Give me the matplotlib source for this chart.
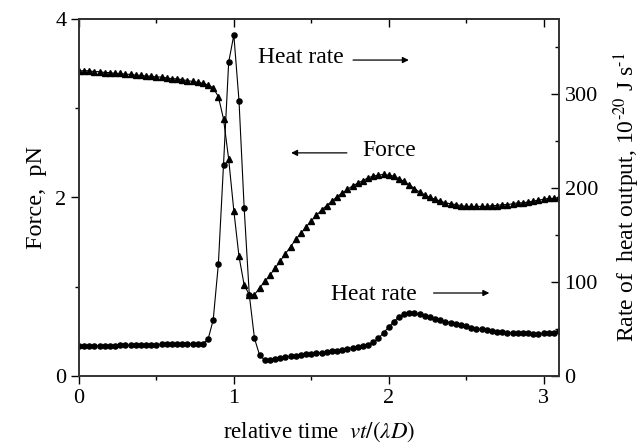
import numpy as np
import matplotlib
matplotlib.use("Agg")
import matplotlib.pyplot as plt
from matplotlib.ticker import MultipleLocator

plt.rcParams['font.family'] = ['Liberation Serif', 'DejaVu Serif']
plt.rcParams['mathtext.fontset'] = 'stix'

# relative time grid (k/30)
t = np.arange(94) / 30.0

force = [3.42, 3.42, 3.42, 3.41, 3.41, 3.40, 3.40, 3.39, 3.39, 3.38,
         3.38, 3.37, 3.37, 3.36, 3.36, 3.35, 3.35, 3.34, 3.33, 3.33,
         3.32, 3.31, 3.30, 3.29, 3.28, 3.26, 3.23, 3.13, 2.88, 2.43,
         1.85, 1.34, 1.02, 0.91, 0.91, 0.99, 1.06, 1.13, 1.21, 1.29,
         1.37, 1.45, 1.53, 1.60, 1.67, 1.74, 1.80, 1.86, 1.91, 1.96,
         2.01, 2.05, 2.09, 2.13, 2.16, 2.19, 2.22, 2.24, 2.25, 2.26,
         2.25, 2.24, 2.21, 2.18, 2.14, 2.10, 2.06, 2.03, 2.00, 1.98,
         1.96, 1.94, 1.93, 1.92, 1.91, 1.90, 1.90, 1.90, 1.90, 1.90,
         1.91, 1.91, 1.92, 1.92, 1.93, 1.94, 1.94, 1.95, 1.96, 1.97,
         1.98, 1.99, 1.99, 2.00]

heat = [31.5, 31.6, 31.8, 31.9, 32.0, 32.2, 32.3, 32.4, 32.6, 32.7,
        32.8, 33.0, 33.1, 33.2, 33.3, 33.5, 33.6, 33.7, 33.8, 33.9,
        34.0, 34.1, 34.2, 34.3, 34.5, 39.0, 59.6, 119.0, 225.0, 334.0,
        363.0, 293.0, 179.0, 86.0, 40.0, 22.0, 17.0, 17.5, 18.5, 19.5,
        20.3, 21.0, 21.7, 22.3, 23.0, 23.7, 24.4, 25.0, 25.7, 26.3,
        27.0, 27.9, 29.0, 30.0, 31.0, 32.0, 33.5, 36.0, 40.0, 46.0,
        52.0, 58.0, 63.0, 65.5, 67.0, 66.8, 65.5, 64.0, 62.5, 61.0,
        59.3, 58.0, 56.6, 55.3, 54.0, 52.8, 51.6, 50.5, 49.6, 48.8,
        48.0, 47.3, 46.7, 46.2, 45.9, 45.6, 45.4, 45.3, 45.2, 45.2,
        45.3, 45.6, 46.2, 48.0]

fig = plt.figure(figsize=(6.41, 4.48), dpi=100)
ax = fig.add_axes([79/641, 1-376/448, (559-79)/641, (376-19)/448])
ax2 = ax.twinx()

ax.plot(t, force, color='black', lw=0.8, marker='^', ms=4.6, mec='black', mfc='black')
ax2.plot(t, heat, color='black', lw=0.8, marker='o', ms=3.7, mec='black', mfc='black')

ax.set_xlim(0, 3.1)
ax.set_ylim(0, 4)
ax2.set_ylim(0, 380)

ax.xaxis.set_major_locator(MultipleLocator(1))
ax.xaxis.set_minor_locator(MultipleLocator(0.5))
ax.yaxis.set_major_locator(MultipleLocator(2))
ax.yaxis.set_minor_locator(MultipleLocator(1))
ax2.yaxis.set_major_locator(MultipleLocator(100))
ax2.yaxis.set_minor_locator(MultipleLocator(50))

fs_tick = 16
ax.tick_params(axis='x', which='both', direction='out', top=False, labelsize=fs_tick, pad=3)
ax.tick_params(axis='y', which='both', direction='out', right=False, labelsize=fs_tick, pad=3)
ax.tick_params(which='major', length=6, width=1)
ax.tick_params(which='minor', length=3, width=1)
ax2.tick_params(axis='y', which='both', direction='in', labelsize=fs_tick, pad=4)
ax2.tick_params(which='major', length=6, width=1)
ax2.tick_params(which='minor', length=3, width=1)

# top ticks (inward)
sec = ax.secondary_xaxis('top')
sec.xaxis.set_major_locator(MultipleLocator(1))
sec.xaxis.set_minor_locator(MultipleLocator(0.5))
sec.tick_params(which='both', direction='in', labeltop=False)
sec.tick_params(which='major', length=6, width=1)
sec.tick_params(which='minor', length=3, width=1)

for a in (ax, ax2):
    for s in a.spines.values():
        s.set_linewidth(1.2)
        s.set_color('#333333')
sec.spines['top'].set_linewidth(1.2)

ax.set_ylabel('Force,  pN', fontsize=17.5, labelpad=6)
ax2.set_ylabel(r'Rate of  heat output, 10$^{\text{-20}}$ J s$^{\text{-1}}$',
               fontsize=17, labelpad=10)
ax.set_xlabel(r'relative time  $vt/\left(\lambda D\right)$', fontsize=16.5, labelpad=9)

fs_ann = 17
arr = dict(arrowstyle='-|>', lw=0.9, color='black', mutation_scale=9, shrinkA=0, shrinkB=0)
ax.text(1.155, 3.57, 'Heat rate', fontsize=fs_ann, ha='left', va='center')
ax.annotate('', xy=(2.13, 3.54), xytext=(1.77, 3.54), arrowprops=arr)
ax.text(1.83, 2.53, 'Force', fontsize=fs_ann, ha='left', va='center')
ax.annotate('', xy=(1.37, 2.50), xytext=(1.73, 2.50), arrowprops=arr)
ax.text(1.63, 0.91, 'Heat rate', fontsize=fs_ann, ha='left', va='center')
ax.annotate('', xy=(2.65, 0.93), xytext=(2.29, 0.93), arrowprops=arr)

fig.savefig('out.png', dpi=100)
